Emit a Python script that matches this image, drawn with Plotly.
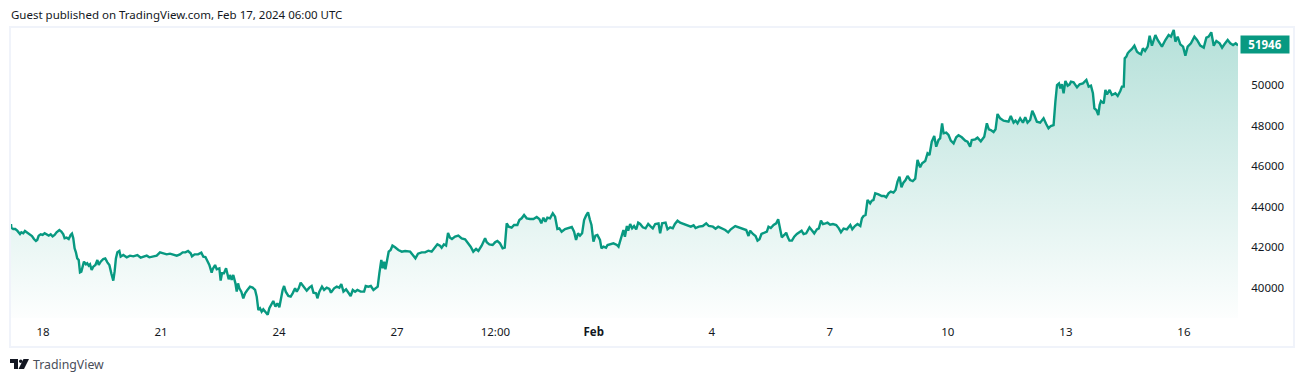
import pandas as pd
import plotly.graph_objects as go

# Hours since 2024-01-18 00:00
hours = [-19.5,-19.3,-18.1,-16.9,-15.7,-14.0,-13.2,-12.0,-11.0,-10.0,-8.9,-7.9,-6.7,-5.5,-4.3,-3.5,-2.6,-1.4,-0.2,1.0,2.2,3.5,4.7,5.9,7.1,8.3,10.0,11.2,12.4,13.2,14.4,15.7,16.9,17.7,18.5,19.3,20.1,20.9,21.8,22.6,23.4,24.2,25.0,26.2,27.0,27.9,28.7,29.7,30.7,32.0,33.2,34.0,35.2,36.8,38.0,39.3,40.5,41.7,42.9,43.7,44.5,45.4,46.6,47.4,49.0,51.1,53.1,55.1,57.6,59.6,61.6,63.3,64.9,67.3,69.4,71.4,73.4,75.5,77.5,79.5,81.6,83.6,85.2,86.9,88.5,90.1,90.9,92.5,94.6,96.6,97.8,99.1,100.3,101.5,
102.9,103.5,105.0,106.0,107.6,108.4,109.2,110.4,111.7,112.5,113.3,114.1,115.1,116.1,117.4,118.2,119.0,119.8,121.0,122.2,123.3,124.7,126.3,127.9,129.4,130.4,131.4,132.4,133.4,134.4,135.9,137.1,138.1,139.5,140.5,141.8,143.0,144.2,145.2,146.2,147.1,148.1,149.7,151.1,152.3,153.8,154.8,156.0,157.2,158.9,160.9,162.5,163.9,165.0,166.6,167.4,168.6,170.2,171.5,173.1,174.7,175.7,177.6,179.2,180.8,182.0,183.3,184.9,186.3,187.7,189.0,190.4,191.8,193.8,195.9,196.9,198.5,200.0,201.6,202.6,204.2,205.2,206.4,207.3,208.1,208.9,210.1,210.9,212.1,213.2,214.8,216.8,218.9,220.9,224.0,
225.5,227.2,228.8,231.0,233.1,235.1,237.1,238.8,240.6,242.2,243.2,244.6,245.9,247.1,248.3,249.5,251.4,253.4,255.4,257.5,259.5,260.9,262.5,264.2,265.6,267.6,269.7,270.7,272.3,274.3,275.8,277.2,278.8,280.4,281.7,282.9,284.1,285.9,287.4,289.4,290.6,292.0,293.5,295.1,297.1,299.2,301.2,302.8,304.0,305.3,306.5,307.7,309.3,311.0,312.4,313.8,315.0,316.4,318.5,320.5,322.6,324.0,325.2,326.4,327.6,328.9,330.1,331.3,332.5,333.7,334.6,335.8,337.0,338.2,339.8,340.7,341.9,343.5,344.4,
348.0,350.1,351.1,352.1,353.1,354.1,355.0,356.2,357.0,358.2,359.4,360.6,361.9,363.1,364.3,365.9,367.6,369.2,370.8,372.0,373.5,375.5,376.5,377.7,379.8,381.0,382.6,384.2,385.5,387.1,388.7,390.8,393.2,395.2,396.9,398.1,400.1,402.5,404.6,406.2,408.7,410.3,411.9,414.1,416.2,418.0,419.6,422.3,424.3,426.3,429.0,430.4,431.4,433.1,434.7,435.9,437.1,438.3,440.0,441.6,442.6,444.0,445.7,447.3,448.5,449.7,450.7,452.2,453.4,454.4,455.4,456.9,458.3,459.9,461.5,462.8,464.0,465.6,467.6,469.3,470.5,472.1,473.3,474.6,475.8,477.4,478.6,480.2,481.9,483.9,485.5,486.8,488.4,490.4,492.5,493.7,495.3,496.9,498.6,499.6,500.6,501.8,
503.0,504.6,505.6,506.6,507.7,509.7,511.7,513.1,514.4,515.8,517.2,518.8,520.1,521.3,522.5,523.7,524.9,526.2,527.4,529.0,530.6,532.1,533.5,535.1,536.3,538.2,539.6,540.8,542.2,543.7,544.9,546.3,547.3,548.5,549.4,551.0,552.4,553.8,555.5,557.1,558.5,560.5,562.6,564.0,565.6,566.6,568.7,570.1,572.1,574.2,575.8,577.0,578.2,579.9,581.1,582.3,583.9,586.0,589.0,590.4,592.1,593.3,594.5,596.1,597.8,599.2,600.6,602.2,603.5,604.7,606.3,608.3,610.4,612.0,613.4,614.8,616.5,
617.6,618.6,619.8,620.6,621.6,622.6,623.7,625.1,626.3,627.1,628.7,630.8,632.4,634.4,636.5,637.9,639.3,640.5,641.4,642.6,643.8,644.6,645.4,647.1,648.1,649.1,650.7,652.1,654.2,655.6,657.2,658.2,659.3,659.9,660.9,661.7,662.9,664.3,665.8,667.4,668.6,669.8,671.0,672.3,673.9,675.1,676.5,678.6,680.0,682.6,684.7,686.7,688.1,689.8,690.8,692.2,693.8,695.5,696.9,698.3,700.3,702.4,704.0,706.0,708.1,709.7,711.1,712.7,714.2,715.8,717.8,719.3,720.7,722.7,724.3,726.0,727.6,729.0]

prices = [43153,42972,42906,42906,42824,42660,42742,42693,42808,42742,42693,42611,42562,42414,42315,42365,42578,42644,42611,42693,42644,42578,42644,42545,42611,42742,42857,42775,42644,42447,42480,42414,42611,42676,42447,41954,41757,41461,41379,40772,40805,41051,41297,41166,41215,41100,41166,40887,41051,41133,41379,41133,41297,41429,41461,41264,41133,40722,40361,40805,41461,41757,41823,41544,41626,41511,41593,41560,41626,41494,41560,41593,41511,41560,41593,41757,41691,41658,41691,41658,41593,41658,41757,41757,41823,41708,41560,41658,41658,41741,41544,41527,41297,41133,
40756,40920,41133,40920,40969,40362,40723,40723,40969,40723,40427,40641,40395,40641,40230,39820,40230,39984,39820,39492,39738,39902,40066,40017,39902,39574,38917,39000,38835,38950,38785,38687,39000,39245,39360,39081,39245,39048,39492,39902,40099,39820,39606,39574,39738,39984,39820,39984,40263,40066,39869,40017,40099,39771,39738,39492,39820,40066,39902,40017,39951,39771,39984,40066,40017,40198,39820,39935,39771,39606,39902,39820,39902,39820,39820,40099,40066,40099,39902,39984,40066,40723,41380,40969,41298,40920,41462,41790,41872,42086,42004,41872,41790,41823,41790,
41659,41462,41692,41757,41757,41839,41790,41954,42151,42086,41987,42151,42086,42710,42480,42414,42529,42578,42447,42398,42201,42037,41790,41922,41823,42086,42447,42250,42151,42119,42250,42316,42201,41954,41987,43186,43022,42972,43104,43104,43350,43432,43596,43432,43399,43399,43498,43399,43186,43465,43268,43465,43432,43679,43514,42907,42940,42775,42907,42972,43005,42775,42365,42693,42578,42693,43350,43564,43728,43350,43104,42283,42578,42611,42365,41954,42037,41987,42118,
42200,42118,42036,42282,42529,42857,42529,43054,42824,43153,42939,43054,42890,43218,43153,42989,42939,43153,43021,42939,43153,43186,42693,43186,43218,42890,42989,42939,43153,43317,43218,43153,43103,43021,43087,42956,43021,43054,43186,43054,43021,42923,43021,42939,42857,42742,42890,43054,42989,42906,42857,42562,42824,42660,42562,42332,42397,42660,42726,42775,43021,42956,43103,43186,43383,42939,42496,42611,42726,42496,42332,42332,42529,42660,42775,42824,42660,42693,42989,42824,42693,42890,42939,43317,43153,43186,43218,43120,43153,43103,42939,42742,42923,42890,43103,42890,43054,43153,43054,43432,43547,43596,
44335,44171,44302,44335,44663,44614,44532,44532,44466,44663,44746,44696,44828,45238,45484,44959,45189,45320,45517,45320,45271,45386,46305,45944,46141,46256,46634,46552,47208,47488,46962,47291,47373,48112,47619,47652,47537,47258,47126,47422,47520,47422,47258,47209,46962,47291,47323,47406,47225,47455,48112,47816,47783,47685,47816,48571,48358,48243,48194,48473,48144,48243,48112,48358,48144,48407,48144,48276,48736,48522,48194,48144,48358,48079,47865,47980,48029,
49179,50000,50082,49836,50033,49590,50198,49968,50033,50165,50132,49885,50033,50082,50247,49918,49968,49590,48851,48769,48523,49015,49212,49097,49754,49541,49754,49508,49590,49459,49705,49918,49918,51314,51396,51560,51675,51774,51938,51642,51560,51511,51807,51675,51889,52431,51938,52463,52217,51889,52217,52463,52381,52710,52135,52381,52004,51889,51445,51889,52053,52381,52217,51938,51840,52332,52381,52595,51938,52168,52053,51840,52004,52217,52053,51971,52053,51946]

x_tick_dates = ["2024-01-18","2024-01-21","2024-01-24","2024-01-27","2024-01-29 12:00","2024-02-01","2024-02-04","2024-02-07","2024-02-10","2024-02-13","2024-02-16"]
x_tick_labels = ["18","21","24","27","12:00","<b>Feb</b>","4","7","10","13","16"]
y_ticks = [40000,42000,44000,46000,48000,50000]
last_price = 51946
header = "Guest published on TradingView.com, Feb 17, 2024 06:00 UTC"
brand = "TradingView"

n = min(len(hours), len(prices))
dates = pd.Timestamp("2024-01-18") + pd.to_timedelta(hours[:n], unit="h")

W, H = 1304, 382
L, R, T, B = 11, 1238, 27, 318
Y_TOP, Y_BOTTOM = 52857, 38522
GREEN = "#089981"
FONT = "'Noto Sans', sans-serif"

def px(x):
    return (x - L) / (R - L)
def py(y):
    return (B - y) / (B - T)

fig = go.Figure(go.Scatter(
    x=dates, y=prices[:n], mode="lines",
    line=dict(color=GREEN, width=2.4),
    fill="tozeroy",
    fillgradient=dict(type="vertical", start=Y_TOP, stop=Y_BOTTOM,
                      colorscale=[[0, "rgba(8,153,129,0.30)"], [1, "rgba(8,153,129,0.01)"]]),
    hoverinfo="skip", showlegend=False,
))

logo = [
    # T mark
    f"M {px(10)} {py(359)} L {px(18)} {py(359)} L {px(18)} {py(369)} L {px(14)} {py(369)} L {px(14)} {py(363)} L {px(10)} {py(363)} Z",
    # V mark
    f"M {px(23.5)} {py(359)} L {px(29)} {py(359)} L {px(24)} {py(369)} L {px(18.5)} {py(369)} Z",
]
shapes = [dict(type="rect", xref="paper", yref="paper", x0=px(10), x1=px(1294), y0=py(347), y1=py(27),
               line=dict(color="#f0f3fa", width=2), layer="below")]
shapes += [dict(type="path", xref="paper", yref="paper", path=p, fillcolor="#131722", line=dict(width=0)) for p in logo]
shapes.append(dict(type="circle", xref="paper", yref="paper", x0=px(19), x1=px(22.5), y0=py(363), y1=py(359.5),
                   fillcolor="#131722", line=dict(width=0)))

fig.update_layout(
    width=W, height=H, autosize=False,
    margin=dict(l=L, r=W - R, t=T, b=H - B, pad=0),
    paper_bgcolor="white", plot_bgcolor="white",
    font=dict(family=FONT, size=11.5, color="#131722"),
    xaxis=dict(type="date",
               range=[pd.Timestamp("2024-01-18") + pd.to_timedelta(-19.5, unit="h"),
                      pd.Timestamp("2024-01-18") + pd.to_timedelta(729.0, unit="h")],
               tickmode="array", tickvals=x_tick_dates, ticktext=x_tick_labels,
               showgrid=False, zeroline=False, showline=False,
               ticks="outside", ticklen=3, tickcolor="rgba(0,0,0,0)",
               tickfont=dict(family=FONT, size=11.5, color="#131722")),
    yaxis=dict(range=[Y_BOTTOM, Y_TOP], side="right",
               tickmode="array", tickvals=y_ticks, ticktext=[str(v) for v in y_ticks],
               showgrid=False, zeroline=False, showline=False,
               ticks="outside", ticklen=10, tickcolor="rgba(0,0,0,0)",
               tickfont=dict(family=FONT, size=11.5, color="#131722")),
    shapes=shapes,
    annotations=[
        dict(xref="paper", yref="y", x=px(1240), y=last_price, text=f"<b>{last_price}</b>", showarrow=False,
             xanchor="left", yanchor="middle", width=44, height=13, bgcolor=GREEN, yshift=1,
             borderpad=2, align="center", font=dict(family=FONT, size=11.5, color="white")),
        dict(xref="paper", yref="paper", x=px(10), y=py(15), text=header, showarrow=False,
             xanchor="left", yanchor="middle", xshift=-1,
             font=dict(family=FONT, size=11.5, color="#131722")),
        dict(xref="paper", yref="paper", x=px(31), y=py(364.5), text=brand, showarrow=False,
             xanchor="left", yanchor="middle",
             font=dict(family=FONT, size=12.3, color="#4a4e59")),
    ],
)

fig.write_html("out.html", config=dict(displayModeBar=False),
               post_script="document.body.style.margin='0';document.body.style.overflow='hidden';")
